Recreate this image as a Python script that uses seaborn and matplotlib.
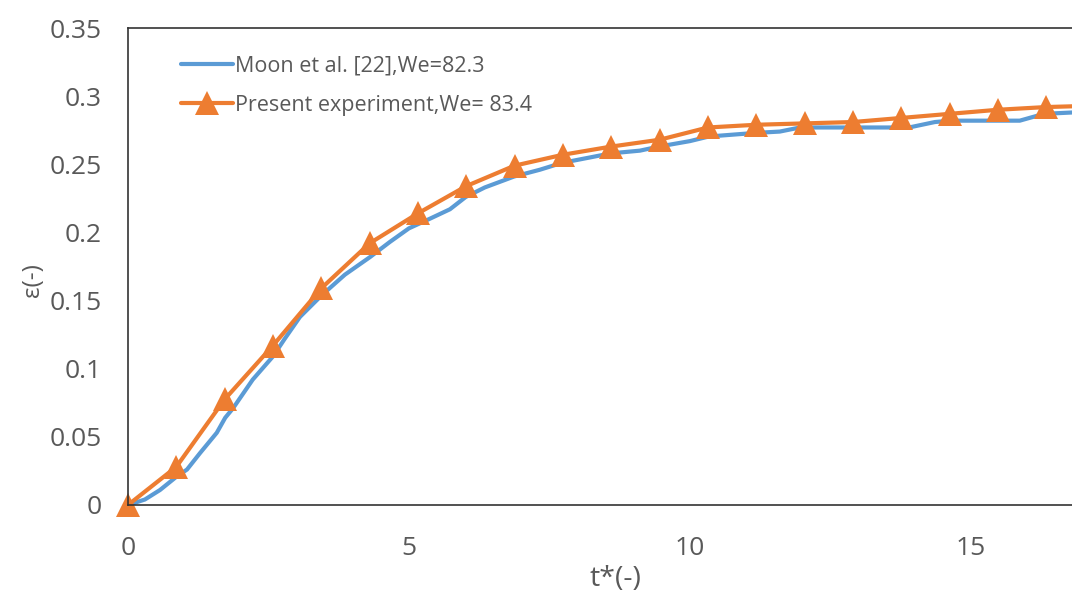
import numpy as np
import pandas as pd
import matplotlib
matplotlib.use("Agg")
import matplotlib.pyplot as plt
import seaborn as sns
from matplotlib.ticker import MultipleLocator, FuncFormatter

moon_t = [0, 0.3, 0.57, 0.87, 1.05, 1.28, 1.58, 1.73, 1.87, 2.22, 2.58, 2.79,
          3.06, 3.45, 3.86, 4.31, 4.66, 5.0, 5.37, 5.73, 6.01, 6.35, 6.87, 7.33,
          7.72, 8.22, 8.59, 9.11, 9.45, 10.0, 10.3, 10.53, 11.16, 11.6, 11.96,
          12.49, 12.86, 13.38, 13.9, 14.36, 14.63, 15.34, 15.87, 16.3, 16.8]
moon_eps = [0, 0.004, 0.011, 0.021, 0.026, 0.038, 0.053, 0.064, 0.071, 0.092,
            0.109, 0.122, 0.138, 0.154, 0.169, 0.182, 0.193, 0.203, 0.210, 0.217,
            0.226, 0.233, 0.241, 0.246, 0.251, 0.255, 0.258, 0.260, 0.263, 0.267,
            0.270, 0.271, 0.273, 0.274, 0.277, 0.277, 0.277, 0.277, 0.277, 0.281,
            0.282, 0.282, 0.282, 0.287, 0.288]

# Present experiment, We=83.4
exp_t = [0, 0.86, 1.72, 2.58, 3.44, 4.3, 5.16, 6.02, 6.88, 7.74, 8.6, 9.46,
         10.32, 11.18, 12.04, 12.9, 13.76, 14.62, 15.48, 16.34, 17.2]
exp_eps = [0, 0.028, 0.0775, 0.117, 0.159, 0.192, 0.214, 0.234, 0.249, 0.257,
           0.263, 0.268, 0.277, 0.279, 0.280, 0.281, 0.284, 0.287, 0.290, 0.292,
           0.293]

sns.set_style("white")
plt.rcParams['font.family'] = ['Open Sans', 'DejaVu Sans']

fig = plt.figure(figsize=(10.72, 5.92), dpi=100)
ax = fig.add_axes([0.1194, 0.147, 0.8806, 0.8057])

sns.lineplot(x=moon_t, y=moon_eps, ax=ax, color='#5B9BD5', linewidth=3,
             label='Moon et al. [22],We=82.3', sort=False)
sns.lineplot(x=exp_t, y=exp_eps, ax=ax, color='#ED7D31', linewidth=3,
             marker='^', markersize=17, markeredgewidth=0,
             label='Present experiment,We= 83.4', sort=False)
# let the marker at the origin show whole, as in the original
ax.lines[-1].set_clip_on(False)

ax.set_xlim(0, 16.8)
ax.set_ylim(0, 0.35)
ax.xaxis.set_major_locator(MultipleLocator(5))
ax.xaxis.set_minor_locator(MultipleLocator(1))
ax.yaxis.set_major_locator(MultipleLocator(0.05))
ax.yaxis.set_minor_locator(MultipleLocator(0.01))
ax.yaxis.set_major_formatter(FuncFormatter(lambda v, p: f"{v:g}"))
ax.xaxis.set_major_formatter(FuncFormatter(lambda v, p: f"{v:g}"))

ax.tick_params(which='major', direction='in', length=9, width=1.2,
               color='#333333', labelsize=19, labelcolor='#595959')
ax.tick_params(which='minor', direction='in', length=6, width=1.2, color='#333333')
ax.tick_params(axis='y', which='minor', length=9)
ax.tick_params(axis='y', which='major', pad=19)
ax.tick_params(axis='x', which='major', pad=22)

for s in ['left', 'bottom', 'top']:
    ax.spines[s].set_color('#333333')
    ax.spines[s].set_linewidth(1.2)
ax.spines['right'].set_visible(False)

ax.set_xlabel('t*(-)', fontsize=20.5, color='#595959')
ax.set_ylabel('ε(-)', fontsize=17.5, color='#595959')
ax.xaxis.set_label_coords(0.516, -0.125)
ax.yaxis.set_label_coords(-0.088, 0.472)

leg = ax.legend(loc='upper left', bbox_to_anchor=(0.047, 0.96), frameon=False,
                fontsize=15.5, handlelength=2.4, handletextpad=0.1,
                labelspacing=0.85, borderaxespad=0)
for t in leg.get_texts():
    t.set_color('#595959')

fig.savefig('out.png', dpi=100)
